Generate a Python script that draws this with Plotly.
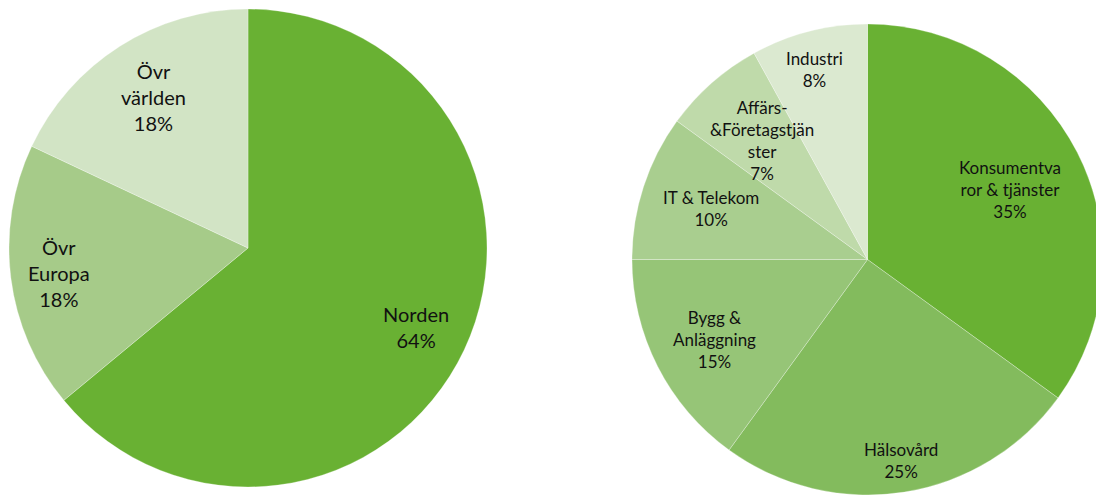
import plotly.graph_objects as go

OFF = 8  # page body margin offset
W, H = 1104 - OFF, 495 - OFF  # figure fits the window without scrollbars

# Left pie: region
region_labels = ["Norden", "Övr Europa", "Övr världen"]
region_text = ["Norden", "Övr<br>Europa", "Övr<br>världen"]
region_values = [64, 18, 18]
region_colors = ["#69B133", "#A6CB89", "#D2E4C5"]

# Right pie: sector
sector_labels = ["Konsumentvaror & tjänster", "Hälsovård", "Bygg & Anläggning",
                 "IT & Telekom", "Affärs- &Företagstjänster", "Industri"]
sector_text = ["Konsumentva<br>ror & tjänster", "Hälsovård", "Bygg &<br>Anläggning",
               "IT & Telekom", "Affärs-<br>&Företagstjän<br>ster", "Industri"]
sector_values = [35, 25, 15, 10, 7, 8]
sector_colors = ["#69B133", "#83BB5D", "#96C577", "#A9CE8F", "#BFDAAA", "#DBE9D0"]

# label anchor positions (screen pixels)
region_pos = [(416, 327), (59, 273), (153, 97)]
sector_pos = [(1010, 189), (901, 460), (714, 339), (711, 208), (762, 140), (815, 69)]


def px_x(v):
    return min(1.0, max(0.0, (v - OFF) / W))


def px_y(v):
    return min(1.0, max(0.0, 1 - (v - OFF) / H))


fig = go.Figure()
# left pie: centre (248,248), r 239 on screen
fig.add_trace(go.Pie(
    labels=region_labels, values=region_values, sort=False, direction="clockwise",
    rotation=0, marker=dict(colors=region_colors, line=dict(color="rgba(255,255,255,0.35)", width=0.8)),
    textinfo="none", hoverinfo="label+percent",
    domain=dict(x=[px_x(9), px_x(487)], y=[px_y(487), px_y(9)]),
    showlegend=False,
))
# right pie: centre ~(868,260), r ~236 on screen
fig.add_trace(go.Pie(
    labels=sector_labels, values=sector_values, sort=False, direction="clockwise",
    rotation=0, marker=dict(colors=sector_colors, line=dict(color="rgba(255,255,255,0.35)", width=0.8)),
    textinfo="none", hoverinfo="label+percent",
    domain=dict(x=[px_x(631), 1.0], y=[0.0, px_y(24)]),
    showlegend=False,
))

annotations = []
for txt, v, (px, py) in zip(region_text, region_values, region_pos):
    annotations.append(dict(
        text=f"{txt}<br>{v}%", x=px_x(px), y=px_y(py), xref="paper", yref="paper",
        xanchor="center", yanchor="middle", showarrow=False, align="center",
        font=dict(family="Lato", size=20, color="#111111"),
    ))
for txt, v, (px, py) in zip(sector_text, sector_values, sector_pos):
    annotations.append(dict(
        text=f"{txt}<br>{v}%", x=px_x(px), y=px_y(py), xref="paper", yref="paper",
        xanchor="center", yanchor="middle", showarrow=False, align="center",
        font=dict(family="Lato", size=17, color="#111111"),
    ))

fig.update_layout(
    width=W, height=H, margin=dict(l=0, r=0, t=0, b=0),
    paper_bgcolor="white", plot_bgcolor="white",
    annotations=annotations,
)
fig.write_html("out.html")
